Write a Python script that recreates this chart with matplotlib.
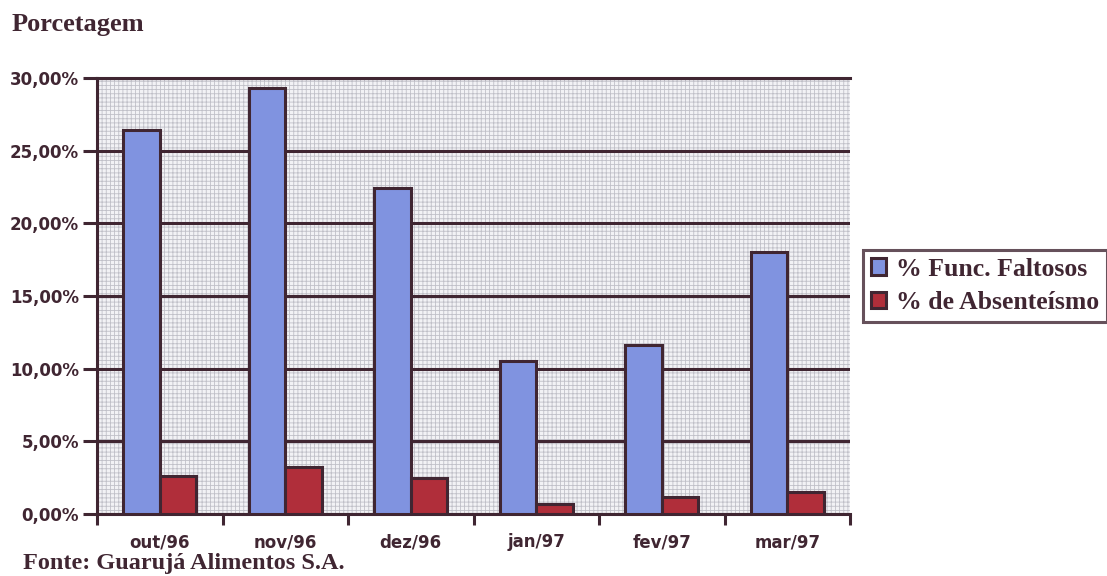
import matplotlib.pyplot as plt
import matplotlib.ticker as mticker
import numpy as np

meses = ['out/96', 'nov/96', 'dez/96', 'jan/97', 'fev/97', 'mar/97']
func_faltosos = [26.4, 29.3, 22.4, 10.5, 11.6, 18.0]
absenteismo = [2.6, 3.2, 2.5, 0.7, 1.2, 1.5]
y_ticks = [0, 5, 10, 15, 20, 25, 30]

ink = '#402632'
azul = '#8093e0'
vermelho = '#b02e3a'

fig = plt.figure(figsize=(11.07, 5.76), dpi=100)
ax = fig.add_axes([97 / 1107, 1 - 514 / 576, (850 - 97) / 1107, (514 - 78) / 576])

# dotted background of the plot area
ax.set_facecolor('#f2f2f5')
plt.rcParams['hatch.color'] = '#c0c0c8'
plt.rcParams['hatch.linewidth'] = 0.6
ax.add_patch(plt.Rectangle((0, 0), 1, 1, transform=ax.transAxes, facecolor='none',
                           edgecolor='#c0c0c8', hatch='++++', linewidth=0, zorder=0))

x = np.arange(len(meses))
w = 0.29
ax.bar(x - w / 2, func_faltosos, w, color=azul, edgecolor=ink, linewidth=2.2,
       label='% Func. Faltosos', zorder=3)
ax.bar(x + w / 2, absenteismo, w, color=vermelho, edgecolor=ink, linewidth=2.2,
       label='% de Absenteísmo', zorder=3)

ax.set_xlim(-0.5, len(meses) - 0.5)
ax.set_ylim(0, 30)
ax.set_yticks(y_ticks)
ax.yaxis.set_major_formatter(mticker.FuncFormatter(lambda v, p: f'{v:.2f}%'.replace('.', ',')))
ax.grid(True, axis='y', color=ink, linewidth=2.2, zorder=1)

# category ticks sit between the groups
ax.set_xticks(np.arange(len(meses) + 1) - 0.5)
ax.set_xticklabels([])
ax.set_xticks(x, minor=True)
ax.set_xticklabels(meses, minor=True)
ax.tick_params(axis='x', which='major', direction='out', length=8, width=2.2, color=ink)
ax.tick_params(axis='x', which='minor', length=0, pad=14)
ax.tick_params(axis='y', direction='out', length=10, width=2.2, color=ink, pad=3)

for lab in ax.get_xticklabels(minor=True) + ax.get_yticklabels():
    lab.set_fontfamily('DejaVu Sans')
    lab.set_fontweight('heavy')
    lab.set_fontsize(12)
    lab.set_color(ink)

for side in ['left', 'bottom', 'top']:
    ax.spines[side].set_color(ink)
    ax.spines[side].set_linewidth(2.2)
ax.spines['right'].set_visible(False)

leg = fig.legend(loc='upper left', bbox_to_anchor=(863 / 1107, 1 - 250 / 576),
                 prop={'family': 'Liberation Serif', 'weight': 'bold', 'size': 18.5},
                 frameon=True, fancybox=False, handlelength=0.6, handleheight=0.6,
                 handletextpad=0.4, borderpad=0.3, labelspacing=0.4, borderaxespad=0)
leg.get_frame().set_edgecolor(ink)
leg.get_frame().set_linewidth(2.2)
for t in leg.get_texts():
    t.set_color(ink)

fig.text(12 / 1107, 1 - 25 / 576, 'Porcetagem', family='Liberation Serif', weight='bold',
         size=19, color=ink, va='center')
fig.text(23 / 1107, 1 - 563 / 576, 'Fonte: Guarujá Alimentos S.A.', family='Liberation Serif',
         weight='bold', size=17.5, color=ink, va='center')

fig.savefig('out.png', dpi=100)
